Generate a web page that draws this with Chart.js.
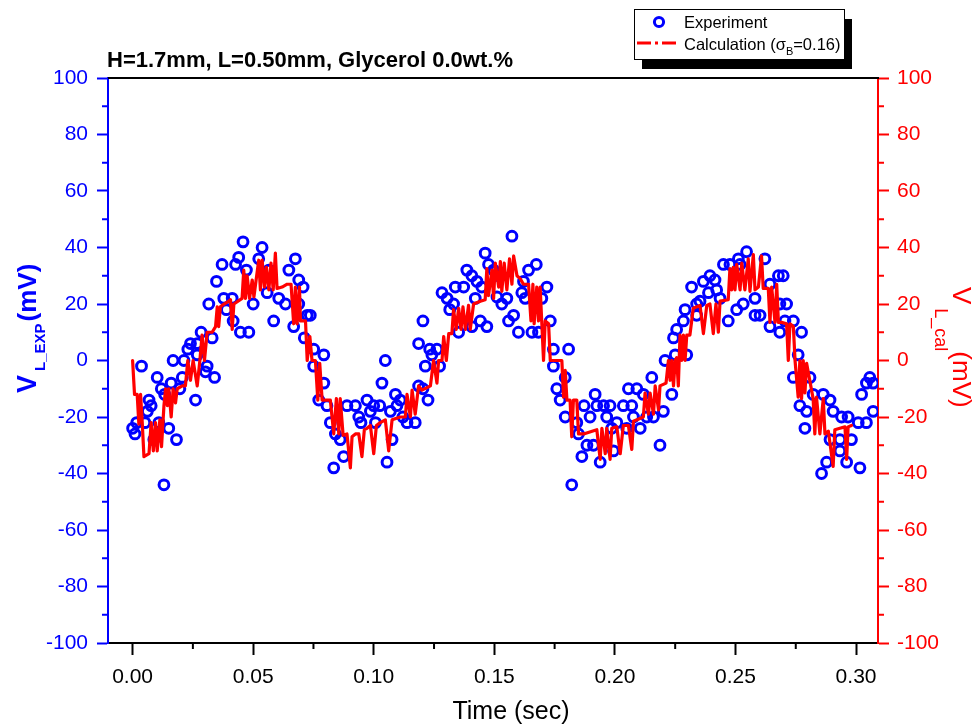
<!DOCTYPE html>
<html>
<head>
<meta charset="utf-8">
<script src="https://cdn.jsdelivr.net/npm/chart.js@4.4.1/dist/chart.umd.min.js"></script>
<style>
html,body{margin:0;padding:0;background:#fff;}
#wrap{width:980px;height:726px;position:relative;}
</style>
</head>
<body>
<div id="wrap"><canvas id="c" width="980" height="726"></canvas></div>
<script>
// ---- Data (time in s, voltage in mV) ----
const expTime = [
0.0000,0.0010,0.0017,0.0037,0.0051,0.0061,0.0068,0.0077,0.0088,0.0102,0.0109,0.0119,0.0130,0.0133,0.0150,0.0160,0.0168,0.0182,0.0196,0.0206,
0.0213,0.0229,0.0240,0.0261,0.0268,0.0268,0.0284,0.0302,0.0309,0.0316,0.0330,0.0340,0.0348,0.0371,0.0378,0.0389,0.0413,0.0417,0.0427,0.0440,
0.0447,0.0458,0.0472,0.0482,0.0500,0.0523,0.0537,0.0558,0.0565,0.0585,0.0606,0.0634,0.0648,0.0668,0.0675,0.0689,
0.0689,0.0707,0.0712,0.0724,0.0737,0.0751,0.0751,0.0772,0.0793,0.0793,0.0806,0.0820,0.0834,0.0841,0.0861,0.0875,0.0889,0.0924,0.0938,0.0947,
0.0972,0.0986,0.1000,0.1007,0.1025,0.1034,0.1048,0.1055,0.1069,0.1076,0.1090,0.1096,0.1110,0.1121,0.1138,0.1172,0.1186,0.1186,0.1204,0.1204,
0.1214,0.1225,0.1232,0.1241,0.1262,0.1273,0.1283,0.1304,0.1315,0.1331,0.1338,0.1352,0.1373,0.1386,0.1407,0.1407,0.1421,0.1428,0.1442,0.1448,
0.1462,0.1469,0.1476,
0.1497,0.1511,0.1518,0.1531,0.1552,0.1559,0.1573,0.1580,0.1600,0.1614,0.1621,0.1628,0.1642,0.1656,0.1674,0.1683,0.1697,0.1718,0.1732,0.1745,
0.1745,0.1759,0.1773,0.1794,0.1794,0.1808,0.1821,0.1842,0.1849,0.1863,0.1872,0.1884,0.1897,0.1911,0.1918,0.1925,0.1939,0.1953,0.1966,0.1980,
0.1987,0.1994,0.2008,0.2035,0.2049,0.2056,0.2070,0.2077,0.2091,0.2105,0.2118,0.2132,0.2153,0.2160,0.2187,0.2201,0.2208,0.2236,0.2243,0.2250,
0.2256,
0.2284,0.2291,0.2298,0.2318,0.2339,0.2339,0.2353,0.2367,0.2388,0.2394,0.2415,0.2422,0.2436,0.2450,0.2470,0.2477,0.2505,0.2512,0.2519,0.2532,
0.2546,0.2581,0.2581,0.2602,0.2622,0.2643,0.2643,0.2678,0.2684,0.2684,0.2698,0.2705,0.2712,0.2740,0.2740,0.2760,0.2767,0.2774,0.2788,0.2795,
0.2809,0.2822,0.2857,0.2864,0.2878,0.2892,0.2892,0.2905,0.2933,0.2933,0.2940,0.2961,0.2967,0.2981,0.3009,0.3016,0.3023,0.3043,0.3043,0.3057,
0.3071,0.3071
];
const expVolt = [
-24,-26,-22,-2,-22,-18,-14,-16,-28,-6,-22,-10,-44,-12,-24,-8,0,-28,-10,-6,
0,4,6,-14,6,2,10,-4,-2,20,8,-6,28,34,22,18,22,14,34,36.5,
10,42,32,10,20,36,40,24,32,14,22,20,32,12,36,28.5,
20,26,8,16,16,4,-2,-14,2,-8,-16,-22,-38,-26,-28,-34,-16,-16,-20,-22,
-14,-18,-16,-22,-16,-8,0,-36,-18,-28,-12,-16,-14,-20,-22,-22,-9,6,-10,14,
-2,-14,4,2,4,-2,24,22,18,20,26,10,26,32,30,12,22,28,14,26,
38,12,34,
32,22.5,30,20,22,14,44,16,10,24,28,22,32,10,34,10,22,26,14,4,
-2,-10,-14,-6,-20,4,-44,-22,-26,-34,-16,-30,-20,-30,-12,-16,-36,-16,-20,-16,
-24,-32,-22,-16,-24,-10,-16,-20,-10,-24,-12,-20,-6,-20,-30,-18,0,-12,8,2,
11,
14,18,2,26,20,16,21,28,24,30,28.5,25,22,34,14,34,18,36,34,20,
38.5,22,16,16,36,27,12,30,10,20,30,14,20,14,-6,2,-16,10,-24,-18,
-6,-12,-40,-12,-36,-14,-28,-18,-28,-32,-20,-36,-20,-28,-22,-38,-12,-22,-8,-6,
-8,-18
];
const calTime = [
0.0000,0.0008,0.0019,0.0026,0.0033,0.0040,0.0047,0.0068,0.0077,0.0086,0.0095,0.0102,0.0113,0.0120,0.0130,0.0137,0.0144,0.0150,0.0160,0.0168,
0.0178,0.0185,0.0206,0.0219,0.0229,0.0240,0.0251,0.0268,0.0279,0.0288,0.0298,0.0309,0.0330,0.0344,0.0351,0.0357,0.0364,0.0371,0.0399,0.0406,
0.0413,0.0420,0.0454,0.0461,0.0468,0.0475,0.0485,0.0496,0.0503,0.0516,0.0523,0.0530,0.0537,0.0547,0.0555,0.0565,0.0574,0.0583,0.0592,0.0599,
0.0620,0.0641,0.0657,0.0668,0.0675,0.0682,0.0692,
0.0696,0.0717,0.0724,0.0735,0.0744,0.0758,0.0768,0.0776,0.0786,0.0820,0.0834,0.0845,0.0855,0.0861,0.0873,0.0889,0.0903,0.0910,0.0924,0.0938,
0.0951,0.0961,0.0972,0.0986,0.1000,0.1011,0.1027,0.1048,0.1062,0.1076,0.1110,0.1131,0.1138,0.1152,0.1159,0.1172,0.1186,0.1200,0.1235,0.1248,
0.1262,0.1269,0.1283,0.1290,0.1301,0.1311,0.1324,0.1331,0.1342,0.1352,0.1362,0.1370,0.1380,0.1393,0.1400,0.1414,0.1442,0.1462,
0.1469,0.1476,0.1490,0.1497,0.1504,0.1518,0.1525,0.1531,0.1541,0.1552,0.1563,0.1573,0.1580,0.1594,0.1607,0.1621,0.1642,0.1652,0.1660,0.1665,
0.1676,0.1683,0.1690,0.1697,0.1704,0.1711,0.1725,0.1732,0.1780,0.1787,0.1794,0.1801,0.1814,0.1821,0.1828,0.1842,0.1849,0.1870,0.1925,0.1939,
0.1946,0.1960,0.1966,0.1980,0.1987,0.2008,0.2022,0.2035,0.2056,0.2070,0.2077,0.2118,0.2125,0.2139,0.2146,0.2160,0.2167,0.2181,0.2187,0.2212,
0.2222,0.2229,0.2236,0.2243,0.2250,
0.2256,0.2263,0.2270,0.2277,0.2284,0.2291,0.2298,0.2311,0.2325,0.2353,0.2367,0.2381,0.2394,0.2408,0.2419,0.2429,0.2436,0.2470,0.2477,0.2484,
0.2491,0.2498,0.2505,0.2519,0.2526,0.2539,0.2553,0.2560,0.2574,0.2581,0.2595,0.2608,0.2615,0.2636,0.2643,0.2650,0.2664,0.2671,0.2678,0.2691,
0.2712,0.2719,0.2726,0.2740,0.2747,0.2760,0.2767,0.2774,0.2781,0.2788,0.2795,0.2822,0.2829,0.2836,0.2850,0.2864,0.2871,0.2885,0.2905,0.2912,
0.2933,0.2954,0.2961,0.2967,0.2981
];
const calVolt = [
0,-12,-12,-22.5,-12,-22,-34,-33,-22,-32,-22,-32,-21,-30.5,-16,-10,-16,-10,-20,-10,
-15,-10,-9,-9,0,-7,0,-9,0,9,0,10,10,12,19,12,19,19.5,21,21.5,
11,20,22,32,22,30,22,28.5,22.5,31,35.5,25,35.5,26,33,25,34.5,25,38,25.5,
26,27,27,13,26,13,26,
14,14,0,8.5,0,0,-14,-1,-14,-14,-26,-13.5,-26,-13.5,-26.5,-26,-38,-27,-26,-26,
-34,-24.5,-24,-23,-33,-23,-22,-21,-32,-21,-20,-20,-12,-20,-10.5,-19,-9,-10.5,-9,0,
-8,0,0,8.5,0,9.5,9.5,18,11,18.5,11,19,11,19.5,11,20,21,21.5,
32.5,23,32,22,34.5,26,35,24.5,34.5,25,36,27,37,30,29,27,27,14,27,13,
26,14,26,13,0,14,13,0,0,-13,-3.5,-14,-14,-27,-14,-14,-26,-26,-24.5,-35,
-24,-33,-24,-35,-24,-23.5,-33,-23,-23,-31.5,-21.5,-20,-11.5,-19,-11.5,-19,-9,-17.5,-9,-8,
0,-7,0,-9,0,
1,-9,9,0,9,0,9,9,18.5,19.5,9.5,19.5,20,9.5,20,10,21,21.5,32.5,25,
33,25,34,25,34.5,25,36,24.5,37.5,25,26,37,25.5,25.5,13.5,26,13.5,27,13.5,13.5,
13,0,13,12,0,-13,0,-13.5,0,-11.5,-1,-13.5,-26,-13,-26,-13.5,-26,-25,-37.5,-24.5,
-24,-23.5,-35,-23.5,-23
];
const xTickStep = 0.05;
const yTicks = [-100,-80,-60,-40,-20,0,20,40,60,80,100];
const xMinorTicks = [0.025,0.075,0.125,0.175,0.225,0.275];
const yMinorTicks = [-90,-70,-50,-30,-10,10,30,50,70,90];

const BLUE = 'rgb(0,0,255)';
const RED = 'rgb(255,0,0)';
const FONT = '"Liberation Sans", Arial, sans-serif';

const expData = expTime.map((t,i)=>({x:t,y:expVolt[i]}));
const calData = calTime.map((t,i)=>({x:t,y:calVolt[i]}));

const decorPlugin = {
  id:'decor',
  afterDraw(chart){
    const ctx = chart.ctx;
    const ca = chart.chartArea;
    const sx = chart.scales.x, sy = chart.scales.y, sy2 = chart.scales.y2;
    ctx.save();
    // top frame
    ctx.strokeStyle = '#000'; ctx.lineWidth = 2;
    ctx.beginPath(); ctx.moveTo(ca.left, ca.top); ctx.lineTo(ca.right+1, ca.top); ctx.stroke();
    // minor ticks
    ctx.lineWidth = 2;
    ctx.strokeStyle = '#000';
    xMinorTicks.forEach(v=>{const p=sx.getPixelForValue(v); ctx.beginPath(); ctx.moveTo(p,ca.bottom); ctx.lineTo(p,ca.bottom+6); ctx.stroke();});
    ctx.strokeStyle = BLUE;
    yMinorTicks.forEach(v=>{const p=sy.getPixelForValue(v); ctx.beginPath(); ctx.moveTo(ca.left,p); ctx.lineTo(ca.left-6,p); ctx.stroke();});
    ctx.strokeStyle = RED;
    yMinorTicks.forEach(v=>{const p=sy2.getPixelForValue(v); ctx.beginPath(); ctx.moveTo(ca.right,p); ctx.lineTo(ca.right+6,p); ctx.stroke();});

    // title
    ctx.fillStyle = '#000';
    ctx.font = 'bold 22px ' + FONT;
    ctx.textAlign = 'left'; ctx.textBaseline = 'alphabetic';
    ctx.fillText('H=1.7mm, L=0.50mm, Glycerol 0.0wt.%', 107, 67);

    // x axis title
    ctx.font = '25px ' + FONT;
    ctx.textAlign = 'center';
    ctx.fillText('Time (sec)', 511, 719);

    // left axis title (rotated)
    ctx.save();
    ctx.translate(36, 393);
    ctx.rotate(-Math.PI/2);
    ctx.fillStyle = BLUE; ctx.textAlign = 'left';
    ctx.font = 'bold 27px ' + FONT;
    ctx.fillText('V', 0, 0);
    let w = ctx.measureText('V').width + 4;
    ctx.font = 'bold 15px ' + FONT;
    ctx.fillText('L_EXP', w, 9);
    w += ctx.measureText('L_EXP').width + 2;
    ctx.font = 'bold 26px ' + FONT;
    ctx.fillText('(mV)', w, 0);
    ctx.restore();

    // right axis title (rotated)
    ctx.save();
    ctx.translate(953, 287);
    ctx.rotate(Math.PI/2);
    ctx.fillStyle = RED; ctx.textAlign = 'left';
    ctx.font = '26px ' + FONT;
    ctx.fillText('V', 0, 0);
    let w2 = ctx.measureText('V').width + 4;
    ctx.font = '18px ' + FONT;
    ctx.fillText('L_cal', w2, 18);
    w2 += ctx.measureText('L_cal').width;
    ctx.font = '26px ' + FONT;
    ctx.fillText('(mV)', w2, 0);
    ctx.restore();

    // legend
    ctx.fillStyle = '#000';
    ctx.fillRect(642, 19, 210, 50);
    ctx.fillStyle = '#fff';
    ctx.fillRect(634, 9, 210, 50);
    ctx.strokeStyle = '#000'; ctx.lineWidth = 1;
    ctx.strokeRect(634.5, 9.5, 210, 50);
    ctx.strokeStyle = BLUE; ctx.lineWidth = 3;
    ctx.beginPath(); ctx.arc(659, 22, 4.6, 0, Math.PI*2); ctx.stroke();
    ctx.strokeStyle = RED; ctx.lineWidth = 2.8;
    ctx.setLineDash([14,4,3,4]);
    ctx.beginPath(); ctx.moveTo(637, 43); ctx.lineTo(680, 43); ctx.stroke();
    ctx.setLineDash([]);
    ctx.fillStyle = '#000'; ctx.textAlign = 'left';
    ctx.font = '16.5px ' + FONT;
    ctx.fillText('Experiment', 684, 28);
    let lx = 684;
    ctx.fillText('Calculation (\u03C3', lx, 50);
    lx += ctx.measureText('Calculation (\u03C3').width;
    ctx.font = '11px ' + FONT;
    ctx.fillText('B', lx, 55);
    lx += ctx.measureText('B').width;
    ctx.font = '16.5px ' + FONT;
    ctx.fillText('=0.16)', lx, 50);
    ctx.restore();
  }
};

new Chart(document.getElementById('c'), {
  data: {
    datasets: [
      {
        type:'line', label:'Calculation', data: calData, yAxisID:'y2',
        borderColor: RED, borderWidth: 3.2, pointRadius: 0, tension: 0, fill:false,
        borderJoinStyle:'round', borderCapStyle:'round'
      },
      {
        type:'scatter', label:'Experiment', data: expData, yAxisID:'y',
        borderColor: BLUE, backgroundColor:'rgba(0,0,0,0)', pointRadius: 4.9, pointBorderWidth: 3,
        pointStyle:'circle', showLine:false
      }
    ]
  },
  options: {
    responsive:false, animation:false, devicePixelRatio:1,
    layout:{padding:{top:78,left:0,right:0,bottom:0}},
    plugins:{legend:{display:false}, title:{display:false}, tooltip:{enabled:false}},
    scales:{
      x:{
        type:'linear', position:'bottom', min:-0.0102, max:0.3091,
        afterFit(s){ s.height = 83; },
        border:{display:true, color:'#000', width:2},
        grid:{display:true, drawOnChartArea:false, drawTicks:true, tickLength:12, tickColor:'#000', tickWidth:2},
        ticks:{stepSize:xTickStep, includeBounds:false, color:'#000', padding:10, maxRotation:0, autoSkip:false,
          font:{family:FONT, size:21}, callback:(v)=>Number(v).toFixed(2)}
      },
      y:{
        type:'linear', position:'left', min:-100, max:100,
        afterFit(s){ s.width = 108; },
        afterBuildTicks(s){ s.ticks = yTicks.map(v=>({value:v})); },
        border:{display:true, color:BLUE, width:2},
        grid:{display:true, drawOnChartArea:false, drawTicks:true, tickLength:11, tickColor:BLUE, tickWidth:2},
        ticks:{color:BLUE, padding:9, font:{family:FONT, size:21}, autoSkip:false}
      },
      y2:{
        type:'linear', position:'right', min:-100, max:100,
        afterFit(s){ s.width = 102; },
        afterBuildTicks(s){ s.ticks = yTicks.map(v=>({value:v})); },
        border:{display:true, color:RED, width:2},
        grid:{display:true, drawOnChartArea:false, drawTicks:true, tickLength:11, tickColor:RED, tickWidth:2},
        ticks:{color:RED, padding:8, font:{family:FONT, size:21}, autoSkip:false}
      }
    }
  },
  plugins:[decorPlugin]
});
</script>
</body>
</html>
